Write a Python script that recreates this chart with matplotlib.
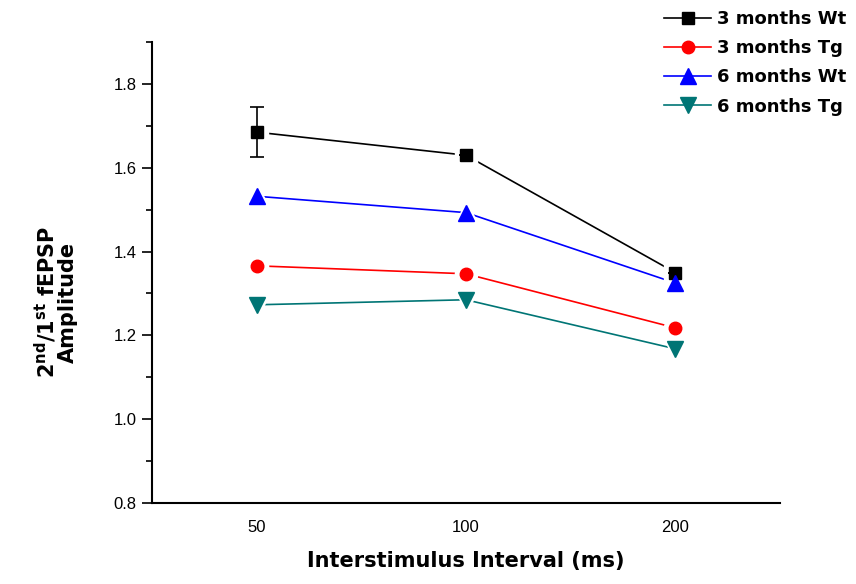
import numpy as np
import matplotlib.pyplot as plt
from matplotlib.ticker import MultipleLocator
from matplotlib.lines import Line2D

plt.rcParams['font.family'] = ['Liberation Sans', 'DejaVu Sans']

intervals = ['50', '100', '200']
wt3 = [1.685, 1.630, 1.350]
wt3_err = [0.060, 0.0, 0.0]
tg3 = [1.366, 1.347, 1.218]
wt6 = [1.532, 1.493, 1.325]
tg6 = [1.273, 1.285, 1.168]

x = np.arange(1, len(intervals) + 1)

fig = plt.figure(figsize=(8.56, 5.84), dpi=100)
ax = fig.add_axes([0.1776, 0.1387, 0.7334, 0.7893])

series = [
    (wt3, 'black', 's', 9, '3 months Wt'),
    (tg3, 'red', 'o', 9, '3 months Tg'),
    (wt6, 'blue', '^', 11, '6 months Wt'),
    (tg6, '#007575', 'v', 11, '6 months Tg'),
]
# lines first, then white halos (gives the gap around markers), then markers
for vals, col, mk, ms, lab in series:
    ax.plot(x, vals, color=col, lw=1.2, zorder=2)
for vals, col, mk, ms, lab in series:
    ax.plot(x, vals, ls='none', marker=mk, ms=ms + 7, mfc='white', mec='white', zorder=3)
ax.errorbar(x, wt3, yerr=wt3_err, fmt='none', ecolor='black',
            elinewidth=1.2, capsize=5, capthick=1.2, zorder=4)
handles = []
for vals, col, mk, ms, lab in series:
    ax.plot(x, vals, ls='none', marker=mk, ms=ms, mfc=col, mec=col, zorder=5)
    handles.append(Line2D([], [], color=col, lw=1.2, marker=mk, ms=ms,
                          mfc=col, mec=col, label=lab))

ax.set_xlim(0.5, 3.5)
ax.set_ylim(0.8, 1.9)
ax.set_xticks(x)
ax.set_xticklabels(intervals)
ax.yaxis.set_major_locator(MultipleLocator(0.2))
ax.yaxis.set_minor_locator(MultipleLocator(0.1))
ax.yaxis.set_major_formatter(plt.FuncFormatter(lambda v, p: f'{v:.1f}'))
ax.tick_params(axis='x', length=0, pad=12, labelsize=12)
ax.tick_params(axis='y', which='major', length=7, width=1.2, labelsize=12, pad=4)
ax.tick_params(axis='y', which='minor', length=4, width=1.2)
for s in ['top', 'right']:
    ax.spines[s].set_visible(False)
for s in ['left', 'bottom']:
    ax.spines[s].set_linewidth(1.5)

ax.set_xlabel('Interstimulus Interval (ms)', fontsize=15, fontweight='bold',
              family='DejaVu Sans', labelpad=12)
ax.set_ylabel('2$^{\\mathregular{nd}}$/1$^{\\mathregular{st}}$ fEPSP\nAmplitude',
              fontsize=15, fontweight='bold', family='DejaVu Sans', linespacing=0.95)
ax.yaxis.set_label_coords(-0.118, 0.436)

fig.legend(handles=handles, loc='upper right', bbox_to_anchor=(1.0, 1.0), frameon=False,
           handlelength=2.6, handletextpad=0.3, labelspacing=0.62, borderaxespad=0.15,
           prop={'weight': 'bold', 'size': 13, 'family': 'DejaVu Sans'})

fig.savefig('out.png', dpi=100)
